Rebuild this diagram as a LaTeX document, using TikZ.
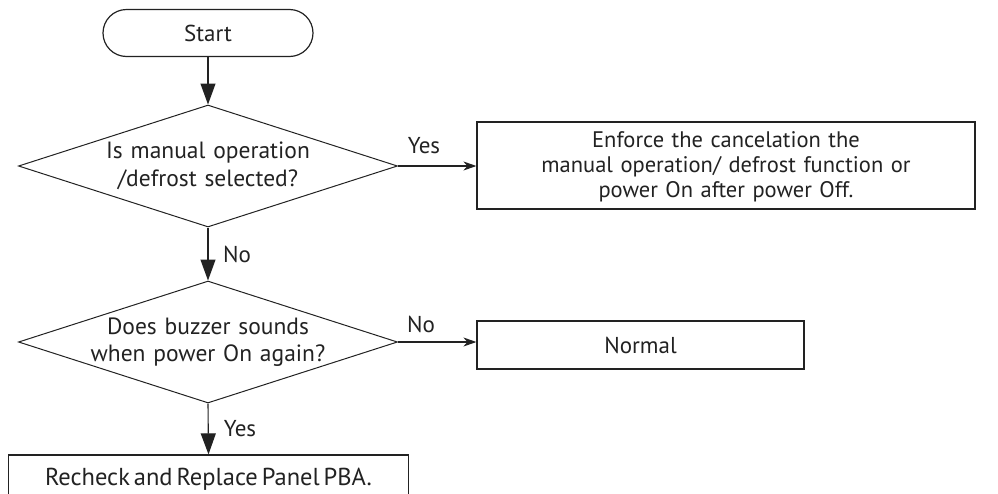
\documentclass[tikz,border=0pt]{standalone}
\usepackage{fontspec}
\setmainfont[WordSpace=0.6]{PT Sans}
\usetikzlibrary{shapes.geometric,shapes.misc,arrows.meta}
\definecolor{ink}{HTML}{222222}
\tikzset{
  txt/.style={font=\fontsize{23}{26}\selectfont, text=ink, inner sep=0pt, align=center},
  boxshape/.style={draw=ink, line width=1.2pt, rectangle, inner sep=0pt},
  termshape/.style={draw=ink, line width=1.2pt, rounded rectangle, inner sep=0pt, minimum width=210pt, minimum height=47pt},
  decshape/.style={draw=ink, line width=1pt, diamond, inner sep=0pt, minimum width=379pt, minimum height=122pt},
  vflow/.style={draw=ink, line width=1.1pt, -{Triangle[length=21pt,width=15pt]}},
  hflow/.style={draw=ink, line width=1.1pt, -{Stealth[length=13pt,width=9pt,inset=4pt]}},
  lbl/.style={font=\fontsize{23}{26}\selectfont, text=ink, inner sep=0pt}
}
\begin{document}
\begin{tikzpicture}[x=1pt,y=-1pt]
\useasboundingbox (0,0) rectangle (998,493);
\clip (0,0) rectangle (998,493);
\node[termshape, txt] (start) at (208,33) {Start};
\node[decshape] (d1) at (208,166) {};
\node[txt, text width=260pt, font=\fontsize{23.5}{28}\selectfont] (d1t) at (208,166) {Is manual operation\\/defrost selected?};
\node[boxshape, minimum width=498pt, minimum height=87pt] (b1) at (726,165.5) {};
\node[txt, text width=480pt, font=\fontsize{22.5}{25}\selectfont] (b1t) at (726,167) {Enforce the cancelation the\\manual operation/ defrost function or\\power On after power Off.};
\node[decshape] (d2) at (208,342) {};
\node[txt, text width=260pt, font=\fontsize{23.5}{27}\selectfont] (d2t) at (208,342) {Does buzzer sounds\\when power On again?};
\node[boxshape, minimum width=327pt, minimum height=48pt] (b2) at (640.5,345) {};
\node[txt] (b2t) at (640.5,345) {Normal};
\node[boxshape, minimum width=400pt, minimum height=60pt] (b3) at (208.5,485) {};
\node[txt, font=\fontsize{24.5}{28}\selectfont] (b3t) at (208.5,479) {Recheck and Replace Panel PBA.};
\draw[vflow] (start.south) -- (d1.north);
\draw[hflow] (d1.east) -- (d1.east -| b1.west);
\draw[vflow] (d1.south) -- (d2.north);
\draw[hflow] (d2.east) -- (d2.east -| b2.west);
\draw[vflow] (d2.south) -- (b3.north);
\node[lbl] (yes1) at (424,146) {Yes};
\node[lbl] (no1) at (237,254) {No};
\node[lbl] (no2) at (421,324) {No};
\node[lbl] (yes2) at (240,429) {Yes};
\end{tikzpicture}
\end{document}
